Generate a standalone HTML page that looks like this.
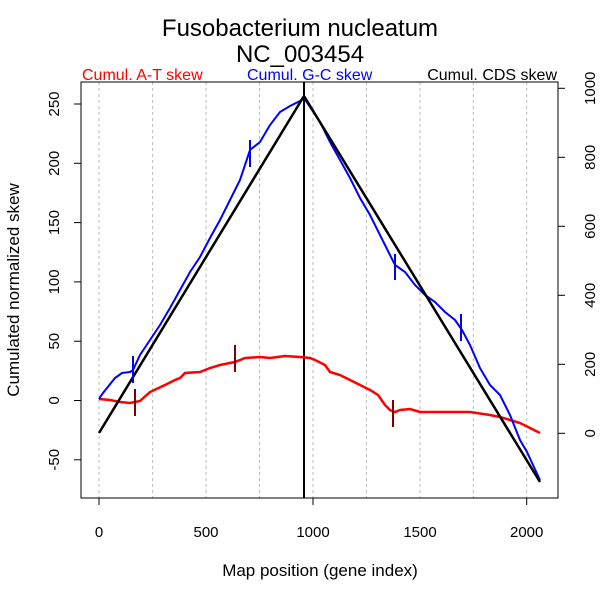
<!DOCTYPE html><html><head><style>body{margin:0;background:#fff}</style></head><body>
<svg width="600" height="600" xmlns="http://www.w3.org/2000/svg" font-family="Liberation Sans, sans-serif">
<rect width="600" height="600" fill="#fff"/>
<text x="300" y="36" font-size="24" text-anchor="middle">Fusobacterium nucleatum</text>
<text x="300" y="62" font-size="24" text-anchor="middle">NC_003454</text>
<text x="82" y="80" font-size="16" fill="#f00">Cumul. A-T skew</text>
<text x="247" y="80" font-size="16" fill="#00f">Cumul. G-C skew</text>
<text x="557" y="80" font-size="16" text-anchor="end">Cumul. CDS skew</text>
<g stroke="#bbb" stroke-dasharray="3,3" stroke-width="1">
<line x1="99" y1="82" x2="99" y2="498"/><line x1="152.6" y1="82" x2="152.6" y2="498"/><line x1="206" y1="82" x2="206" y2="498"/><line x1="259.5" y1="82" x2="259.5" y2="498"/><line x1="313" y1="82" x2="313" y2="498"/><line x1="366.4" y1="82" x2="366.4" y2="498"/><line x1="420" y1="82" x2="420" y2="498"/><line x1="473.3" y1="82" x2="473.3" y2="498"/><line x1="526.7" y1="82" x2="526.7" y2="498"/>
</g>
<rect x="81" y="82" width="477" height="416" fill="none" stroke="#000"/>
<g stroke="#000">
<line x1="99" y1="498" x2="99" y2="505"/><line x1="313" y1="498" x2="313" y2="505"/><line x1="526.7" y1="498" x2="526.7" y2="505"/>
<line x1="74" y1="104" x2="81" y2="104"/><line x1="74" y1="163.3" x2="81" y2="163.3"/><line x1="74" y1="222.6" x2="81" y2="222.6"/><line x1="74" y1="281.9" x2="81" y2="281.9"/><line x1="74" y1="341.2" x2="81" y2="341.2"/><line x1="74" y1="400.5" x2="81" y2="400.5"/><line x1="74" y1="459.8" x2="81" y2="459.8"/>
<line x1="558" y1="433.3" x2="565" y2="433.3"/><line x1="558" y1="364.3" x2="565" y2="364.3"/><line x1="558" y1="295.3" x2="565" y2="295.3"/><line x1="558" y1="226.3" x2="565" y2="226.3"/><line x1="558" y1="157.3" x2="565" y2="157.3"/><line x1="558" y1="88.3" x2="565" y2="88.3"/>
</g>
<g font-size="15" text-anchor="middle">
<text x="99" y="537">0</text><text x="206" y="537">500</text><text x="313" y="537">1000</text><text x="420" y="537">1500</text><text x="526.7" y="537">2000</text>
</g>
<g font-size="15" text-anchor="middle">
<text transform="translate(59,104) rotate(-90)">250</text><text transform="translate(59,163.3) rotate(-90)">200</text><text transform="translate(59,222.6) rotate(-90)">150</text><text transform="translate(59,281.9) rotate(-90)">100</text><text transform="translate(59,341.2) rotate(-90)">50</text><text transform="translate(59,400.5) rotate(-90)">0</text><text transform="translate(59,459.8) rotate(-90)">-50</text>
<text transform="translate(595,433.3) rotate(-90)">0</text><text transform="translate(595,364.3) rotate(-90)">200</text><text transform="translate(595,295.3) rotate(-90)">400</text><text transform="translate(595,226.3) rotate(-90)">600</text><text transform="translate(595,157.3) rotate(-90)">800</text><text transform="translate(595,88.3) rotate(-90)">1000</text>
</g>
<text x="320" y="576" font-size="17" text-anchor="middle">Map position (gene index)</text>
<text transform="translate(19,290) rotate(-90)" font-size="17" text-anchor="middle">Cumulated normalized skew</text>
<line x1="304" y1="82" x2="304" y2="498" stroke="#000" stroke-width="2"/>
<polyline fill="none" stroke="#f00" stroke-width="2.5" points="99,399 110,400 120,402 130,403 140,401 150,392 165,385 175,380 180,378 185,373 200,372 210,368 220,365 235,362 245,358 260,357 270,358 285,356 300,357 310,358 315,360 325,365 330,372 340,375 350,380 360,385 370,390 378,395 385,405 390,410 395,412 400,410 410,409 420,412 440,412 470,412 490,415 500,417 510,420 520,423 540,433"/>
<polyline fill="none" stroke="#00f" stroke-width="2" points="99,399 103,393 115,378 122,373 130,372 133,370 140,355 150,340 160,325 170,308 180,290 190,272 200,257 210,238 220,220 230,200 240,180 250,150 260,142 270,125 280,112 290,106 300,101 304,98 310,107 320,122 330,142 340,160 350,178 360,198 370,215 385,245 395,265 405,272 415,285 425,295 435,302 445,312 455,320 462,330 470,345 480,368 490,385 500,395 510,415 520,440 527,452 533,465 540,480"/>
<polyline fill="none" stroke="#000" stroke-width="2.5" points="99,433 304,96 540,482"/>
<g stroke="#00f" stroke-width="2"><line x1="133" y1="356" x2="133" y2="383"/><line x1="250" y1="140" x2="250" y2="167"/><line x1="395" y1="254" x2="395" y2="280"/><line x1="461" y1="314" x2="461" y2="341"/></g>
<g stroke="#800000" stroke-width="2"><line x1="135" y1="389" x2="135" y2="416"/><line x1="235" y1="345" x2="235" y2="372"/><line x1="393" y1="400" x2="393" y2="427"/></g>
</svg></body></html>
